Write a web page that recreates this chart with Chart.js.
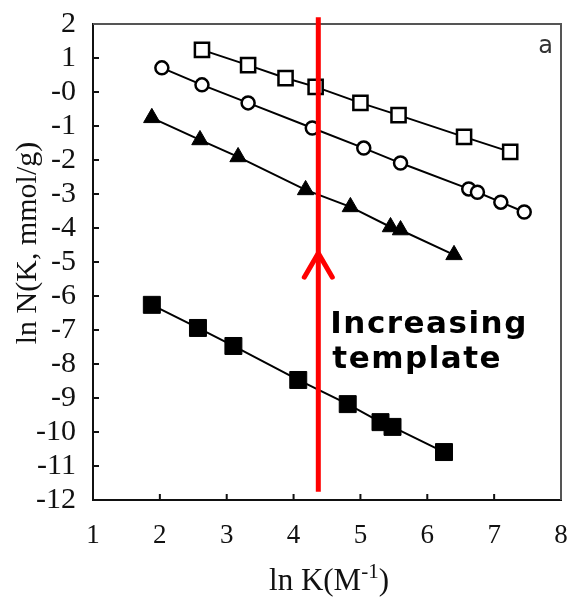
<!DOCTYPE html>
<html>
<head>
<meta charset="utf-8">
<script src="https://cdn.jsdelivr.net/npm/chart.js@4.4.1/dist/chart.umd.min.js"></script>
<style>
html, body { margin: 0; padding: 0; background: #fff; }
#wrap { width: 571px; height: 601px; }
</style>
</head>
<body>
<div id="wrap"><canvas id="c"></canvas></div>
<script>
// ln K vs ln N, four templates
const openSqX = [2.63, 3.32, 3.88, 4.33, 5.00, 5.57, 6.55, 7.24];
const openSqY = [1.24, 0.79, 0.41, 0.15, -0.32, -0.68, -1.32, -1.76];

const openCircX = [2.03, 2.63, 3.32, 4.28, 5.05, 5.60, 6.62, 6.75, 7.10, 7.45];
const openCircY = [0.71, 0.21, -0.32, -1.06, -1.65, -2.09, -2.85, -2.95, -3.24, -3.53];

const triX = [1.88, 2.60, 3.17, 4.18, 4.85, 5.45, 5.60, 6.40];
const triY = [-0.76, -1.41, -1.91, -2.88, -3.38, -3.97, -4.06, -4.79];

const fillSqX = [1.88, 2.57, 3.10, 4.07, 4.81, 5.30, 5.48, 6.25];
const fillSqY = [-6.26, -6.94, -7.47, -8.47, -9.18, -9.71, -9.85, -10.59];

const xTicks = [1, 2, 3, 4, 5, 6, 7, 8];
const yTicks = [2, 1, 0, -1, -2, -3, -4, -5, -6, -7, -8, -9, -10, -11, -12];

// red arrow: x position, line ends and arrow tip
const arrowX = 4.37;
const arrowTop = 2.2;
const arrowBottom = -11.76;
const arrowTip = -4.74;

function pts(xs, ys) {
  return xs.map((v, i) => ({x: v, y: ys[i]}));
}

function series(xs, ys, style, size, filled) {
  return {
    data: pts(xs, ys),
    showLine: true,
    borderColor: '#000',
    borderWidth: 2,
    pointStyle: style,
    pointRadius: size,
    pointBorderWidth: filled ? 1 : 2.5,
    pointBackgroundColor: filled ? '#000' : '#fff',
    pointBorderColor: '#000'
  };
}

const serif = '"Liberation Serif", "DejaVu Serif", serif';

const overlay = {
  id: 'overlay',
  beforeDatasetsDraw(chart) {
    const {ctx, chartArea: a, scales: {x, y}} = chart;
    ctx.save();
    ctx.strokeStyle = '#555';
    ctx.lineWidth = 2;
    ctx.beginPath();
    ctx.moveTo(a.left, a.top);
    ctx.lineTo(a.right, a.top);
    ctx.lineTo(a.right, a.bottom);
    ctx.stroke();

    ctx.strokeStyle = '#111';
    ctx.beginPath();
    xTicks.slice(1, -1).forEach(v => {
      const px = x.getPixelForValue(v);
      ctx.moveTo(px, a.bottom);
      ctx.lineTo(px, a.bottom - 6);
    });
    yTicks.slice(1, -1).forEach(v => {
      const py = y.getPixelForValue(v);
      ctx.moveTo(a.left, py);
      ctx.lineTo(a.left + 6, py);
    });
    ctx.stroke();
    ctx.restore();
  },
  afterDatasetsDraw(chart) {
    const {ctx, chartArea: a, scales: {x, y}} = chart;
    ctx.save();

    // red arrow
    const rx = x.getPixelForValue(arrowX);
    const tip = y.getPixelForValue(arrowTip);
    ctx.strokeStyle = '#ff0000';
    ctx.lineWidth = 5;
    ctx.beginPath();
    ctx.moveTo(rx, y.getPixelForValue(arrowTop));
    ctx.lineTo(rx, y.getPixelForValue(arrowBottom));
    ctx.stroke();
    ctx.lineCap = 'round';
    ctx.beginPath();
    ctx.moveTo(rx - 14, tip + 24);
    ctx.lineTo(rx, tip);
    ctx.lineTo(rx + 14, tip + 24);
    ctx.stroke();

    // annotation
    ctx.fillStyle = '#000';
    ctx.font = 'bold 31px "DejaVu Sans", sans-serif';
    ctx.letterSpacing = '1.5px';
    ctx.textAlign = 'left';
    ctx.textBaseline = 'alphabetic';
    ctx.fillText('Increasing', rx + 12, a.top + 309);
    ctx.fillText('template', rx + 14, a.top + 344);
    ctx.letterSpacing = '0px';

    // panel letter
    ctx.fillStyle = '#333';
    ctx.font = '24px "DejaVu Sans", sans-serif';
    ctx.textAlign = 'right';
    ctx.fillText('a', a.right - 8, a.top + 29);

    // x title with superscript
    ctx.fillStyle = '#111';
    ctx.textAlign = 'left';
    const main = 'ln K(M';
    const sup = '-1';
    const end = ')';
    ctx.font = '31px ' + serif;
    const w1 = ctx.measureText(main).width;
    ctx.font = '21px ' + serif;
    const w2 = ctx.measureText(sup).width;
    ctx.font = '31px ' + serif;
    const w3 = ctx.measureText(end).width;
    let tx = (a.left + a.right) / 2 - (w1 + w2 + w3) / 2 + 2;
    const ty = a.bottom + 90;
    ctx.fillText(main, tx, ty);
    tx += w1;
    ctx.font = '21px ' + serif;
    ctx.fillText(sup, tx, ty - 12);
    tx += w2;
    ctx.font = '31px ' + serif;
    ctx.fillText(end, tx, ty);

    // y title
    ctx.translate(36, 243);
    ctx.rotate(-Math.PI / 2);
    ctx.textAlign = 'center';
    ctx.font = '30px ' + serif;
    ctx.fillText('ln N(K, mmol/g)', 0, 0);

    ctx.restore();
  }
};

new Chart(document.getElementById('c'), {
  type: 'scatter',
  data: {
    datasets: [
      series(openSqX, openSqY, 'rect', 10, false),
      series(openCircX, openCircY, 'circle', 6.5, false),
      series(triX, triY, 'triangle', 9.5, true),
      series(fillSqX, fillSqY, 'rect', 12, true)
    ]
  },
  options: {
    responsive: true,
    maintainAspectRatio: false,
    animation: false,
    devicePixelRatio: 1,
    layout: { autoPadding: false, padding: { top: 24, right: 10, left: 0, bottom: 0 } },
    plugins: { legend: { display: false }, tooltip: { enabled: false } },
    scales: {
      x: {
        type: 'linear',
        min: 1,
        max: 8,
        afterBuildTicks: s => { s.ticks = xTicks.map(v => ({value: v})); },
        afterFit: s => { s.height = 101; s.paddingLeft = 0; s.paddingRight = 0; },
        ticks: { color: '#111', font: { family: serif, size: 27 }, padding: 20, maxRotation: 0, autoSkip: false },
        grid: { display: false, drawTicks: false },
        border: { display: true, color: '#111', width: 2 }
      },
      y: {
        type: 'linear',
        min: -12,
        max: 2,
        afterBuildTicks: s => { s.ticks = yTicks.map(v => ({value: v})); },
        afterFit: s => { s.width = 93; s.paddingTop = 0; s.paddingBottom = 0; },
        ticks: {
          color: '#111',
          font: { family: serif, size: 30 },
          padding: 17,
          autoSkip: false,
          callback: v => (v === 0 ? '-0' : String(v))
        },
        grid: { display: false, drawTicks: false },
        border: { display: true, color: '#111', width: 2 }
      }
    }
  },
  plugins: [overlay]
});
</script>
</body>
</html>
